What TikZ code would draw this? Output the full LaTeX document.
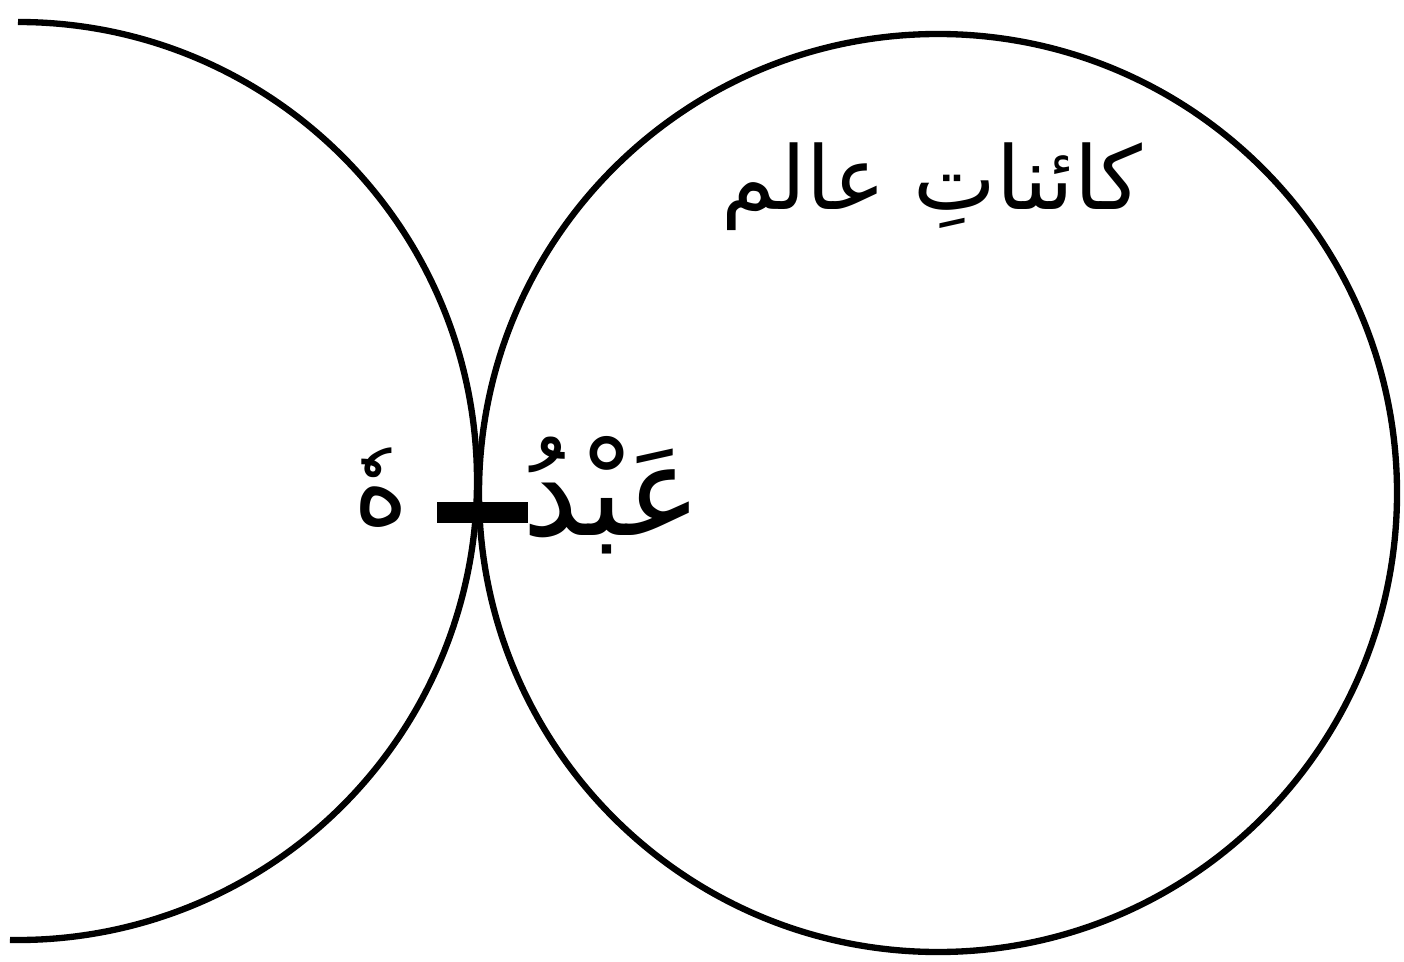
\documentclass[tikz,border=0pt]{standalone}
\usepackage{fontspec}
\newfontfamily\urdufont[Script=Arabic]{DejaVu Sans}
\TeXXeTstate=1
\usetikzlibrary{positioning}
\begin{document}
\begin{tikzpicture}[line width=1.8pt,
  lbl/.style={inner sep=0pt,font=\urdufont\fontsize{36}{40}\selectfont}]
\useasboundingbox (0,0) rectangle (14.04,9.61);
\coordinate (L) at (0.18,4.80);
\coordinate (R) at (9.38,4.68);
\draw ([shift={(90:4.59)}]L) arc[start angle=90,end angle=-91,radius=4.59];
\draw (R) circle[radius=4.59];
\node[fill,inner sep=0pt,minimum width=0.91cm,minimum height=0.21cm] (bar) at (4.825,4.485) {};
\node[lbl,right=-0.12cm of bar,yshift=0.17cm] (abd) {\beginR عَبْدُ\endR};
\node[lbl,font=\urdufont\fontsize{30}{36}\selectfont,left=0.22cm of bar,yshift=0.25cm] (hu) {\beginR هٗ\endR};
\node[lbl,font=\urdufont\fontsize{25}{30}\selectfont] (kainat) at (9.32,7.74) {\beginR کائناتِ عالم\endR};
\end{tikzpicture}
\end{document}
